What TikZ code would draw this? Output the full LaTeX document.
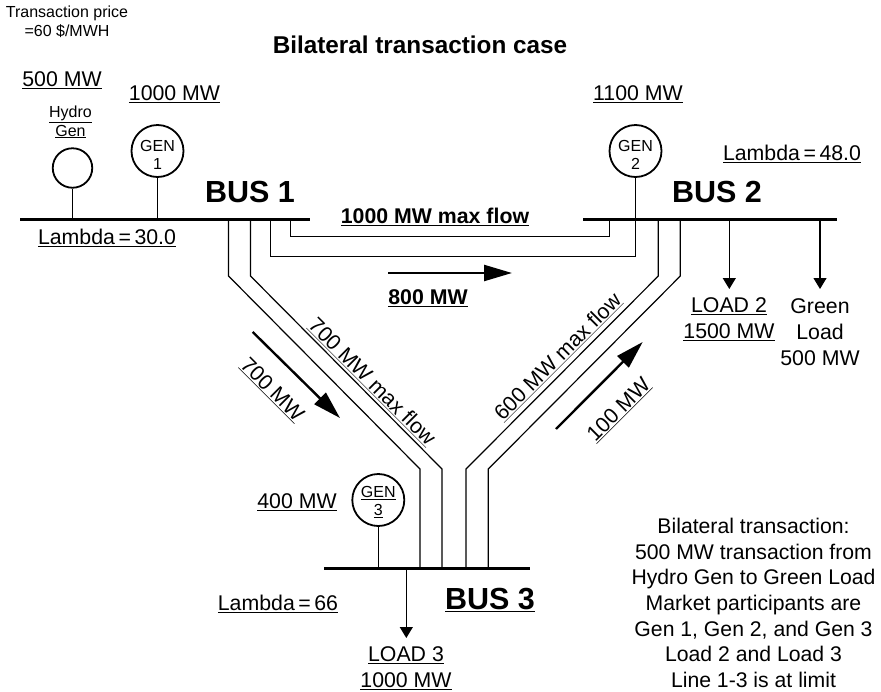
\documentclass[tikz,border=0pt]{standalone}
\usepackage{fontspec}
\setmainfont{Liberation Sans}
\usetikzlibrary{arrows.meta}
\newcommand{\ulx}[1]{\underline{#1}}
\tikzset{
  x=1pt,y=-1pt,
  lab/.style={inner sep=0pt,align=center,font=\fontsize{21.3}{26}\selectfont},
  smalllab/.style={inner sep=0pt,align=center,font=\fontsize{16}{18.7}\selectfont},
  buslab/.style={inner sep=0pt,font=\fontsize{30.5}{34}\selectfont\bfseries},
  boldlab/.style={inner sep=0pt,font=\fontsize{21.3}{26}\selectfont\bfseries},
  gen/.style={circle,draw=black,line width=1.8pt,minimum size=52,inner sep=0pt},
  gentext/.style={inner sep=0pt,align=center,font=\fontsize{16}{18.5}\selectfont},
  busbar/.style={line width=2.2pt},
  wire/.style={line width=1.2pt},
  loadarrow/.style={line width=1.2pt,-{Triangle[length=11pt,width=13pt]}},
  flowarrow/.style={line width=2.4pt,-{Triangle[length=28pt,width=16pt]}}
}
\begin{document}
\begin{tikzpicture}
\useasboundingbox (0,0) rectangle (881,691);
% buses
\coordinate (b1w) at (20,219.5); \coordinate (b1e) at (310,219.5);
\coordinate (b2w) at (583,219.5); \coordinate (b2e) at (837,219.5);
\coordinate (b3w) at (324,568.5); \coordinate (b3e) at (530,568.5);
\draw[busbar] (b1w) -- (b1e);
\draw[busbar] (b2w) -- (b2e);
\draw[busbar] (b3w) -- (b3e);
% generators
\node[gen,minimum size=39.5] (hydro) at (72.5,168) {};
\node[gen] (gen1) at (157.5,151) {};
\node[gen] (gen2) at (635.5,151) {};
\node[gen] (gen3) at (378.3,500) {};
\node[gentext] (gen1t) at (157.5,155) {GEN\\1};
\node[gentext] (gen2t) at (635.5,155) {GEN\\2};
\node[gentext] (gen3t) at (378.3,502) {\ulx{GEN}\\\ulx{3}};
\draw[wire] (hydro.south) -- (hydro.south |- b1w);
\draw[wire] (gen1.south) -- (gen1.south |- b1w);
\draw[wire] (gen3.south) -- (gen3.south |- b3w);
% line 1-2
\coordinate (a1) at (270.5,256.7);
\coordinate (a2) at (290.7,236.5);
\coordinate (a3) at (609.3,236.5);
\draw[wire] (a1 |- b1w) -- (a1) -- (gen2.south |- a1) -- (gen2.south);
\draw[wire] (a2 |- b1w) -- (a2) -- (a3) -- (a3 |- b2w);
% line 1-3
\coordinate (c1) at (228.5,276); \coordinate (c2) at (250.5,276);
\coordinate (c3) at (420,469); \coordinate (c4) at (442,469);
\draw[wire] (c1 |- b1w) -- (c1) -- (c3) -- (c3 |- b3w);
\draw[wire] (c2 |- b1w) -- (c2) -- (c4) -- (c4 |- b3w);
% line 2-3
\coordinate (d1) at (466,469); \coordinate (d2) at (488.3,469);
\coordinate (d3) at (658.3,276); \coordinate (d4) at (680.3,276);
\draw[wire] (d1 |- b3w) -- (d1) -- (d3) -- (d3 |- b2w);
\draw[wire] (d2 |- b3w) -- (d2) -- (d4) -- (d4 |- b2w);
% load arrows
\coordinate (l2) at (729.3,289); \coordinate (lg) at (820,289); \coordinate (l3) at (406.3,638);
\draw[loadarrow] (l2 |- b2w) -- (l2);
\draw[loadarrow] (lg |- b2w) -- (lg);
\draw[loadarrow] (l3 |- b3w) -- (l3);
% flow arrows
\coordinate (f1a) at (388,273); \coordinate (f1b) at (512,273);
\coordinate (f2a) at (252.7,332); \coordinate (f2b) at (340,418);
\coordinate (f3a) at (556,429); \coordinate (f3b) at (642.7,342);
\draw[flowarrow] (f1a) -- (f1b);
\draw[flowarrow] (f2a) -- (f2b);
\draw[flowarrow] (f3a) -- (f3b);
% labels
\node[smalllab] (price) at (67,22) {Transaction price\\=60 \$/MWH};
\node[inner sep=0pt,font=\fontsize{24.3}{28}\selectfont\bfseries] (title) at (420,45) {Bilateral transaction case};
\node[lab] (h500) at (62,80) {\ulx{500 MW}};
\node[lab] (g1000) at (174.5,94.5) {\ulx{1000 MW}};
\node[smalllab] (hgen) at (70.5,122) {\ulx{Hydro}\\\ulx{Gen}};
\node[buslab] (bus1) at (250,192) {BUS 1};
\node[buslab] (bus2) at (717,192) {BUS 2};
\node[buslab] (bus3) at (490,600) {\ulx{BUS 3}};
\node[lab] (lam1) at (107,238) {\ulx{Lambda\,=\,30.0}};
\node[lab] (lam2) at (792,154) {\ulx{Lambda\,=\,48.0}};
\node[lab] (lam3) at (278,604) {\ulx{Lambda\,=\,66}};
\node[boldlab] (max12) at (435,217) {\ulx{1000 MW max flow}};
\node[boldlab] (f800) at (428,298) {\ulx{800 MW}};
\node[lab] (g1100) at (638,94) {\ulx{1100 MW}};
\node[lab] (load2) at (729,319) {\ulx{LOAD 2}\\\ulx{1500 MW}};
\node[lab] (green) at (820,332) {Green\\Load\\500 MW};
\node[lab,rotate=-45] (max13) at (372,382) {\ulx{700 MW max flow}};
\node[lab,rotate=-45] (f700) at (272,390) {\ulx{700 MW}};
\node[lab,rotate=45] (max23) at (558,357) {\ulx{600 MW max flow}};
\node[lab,rotate=45] (f100) at (619,410) {\ulx{100 MW}};
\node[lab] (g400) at (297,502) {\ulx{400 MW}};
\node[lab] (load3) at (406,668) {\ulx{LOAD 3}\\\ulx{1000 MW}};
\node[lab,font=\fontsize{21.2}{25.7}\selectfont] (note) at (753.5,603) {Bilateral transaction:\\500 MW transaction from\\Hydro Gen to Green Load\\Market participants are\\Gen 1, Gen 2, and Gen 3\\Load 2 and Load 3\\Line 1-3 is at limit};
\end{tikzpicture}
\end{document}
